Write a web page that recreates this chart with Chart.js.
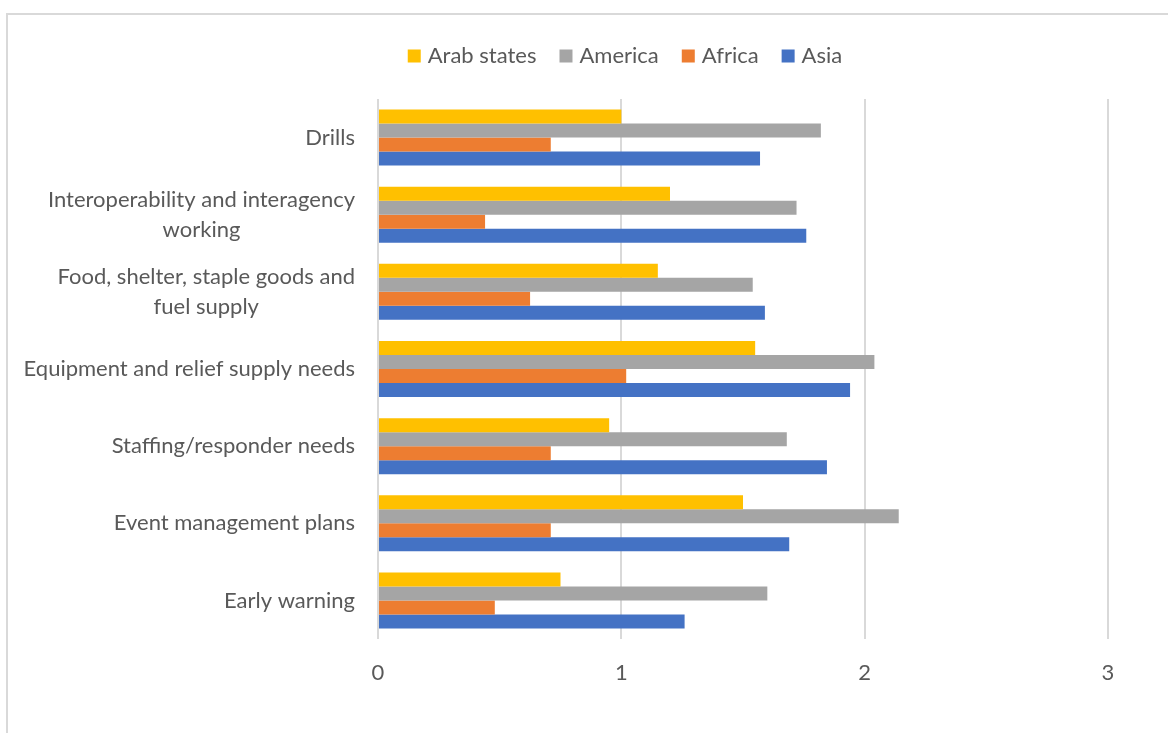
<!DOCTYPE html>
<html>
<head>
<meta charset="utf-8">
<script src="https://cdn.jsdelivr.net/npm/chart.js@4.4.1/dist/chart.umd.min.js"></script>
<style>
  html, body { margin: 0; padding: 0; background: #ffffff; overflow: hidden; }
  #wrap { position: absolute; left: 0; top: 0; width: 1168px; height: 733px; }
</style>
</head>
<body>
<div id="wrap"><canvas id="c" width="1168" height="733"></canvas></div>
<script>
// Preparedness areas (top to bottom); multi-line labels are split into lines
const categories = [
  ["Drills"],
  ["Interoperability and interagency", "working"],
  ["Food, shelter, staple goods and", "fuel supply"],
  ["Equipment and relief supply needs"],
  ["Staffing/responder needs"],
  ["Event management plans"],
  ["Early warning"]
];
const seriesNames = ["Arab states", "America", "Africa", "Asia"];
const seriesColors = ["#FFC000", "#A5A5A5", "#ED7D31", "#4472C4"];

// Mean scores per region
const arabStates = [1.00, 1.20, 1.15, 1.55, 0.95, 1.50, 0.75];
const america    = [1.82, 1.72, 1.54, 2.04, 1.68, 2.14, 1.60];
const africa     = [0.71, 0.44, 0.625, 1.02, 0.71, 0.71, 0.48];
const asia       = [1.57, 1.76, 1.59, 1.94, 1.845, 1.69, 1.26];

const xTicks = [0, 1, 2, 3];

const FONT = "Lato, 'Open Sans', sans-serif";
const FONT_SIZE = 22;
const TEXT_COLOR = "#595959";
const GRID_COLOR = "#D9D9D9";

// Frame around the chart
const framePlugin = {
  id: "frame",
  beforeDraw(chart) {
    const ctx = chart.ctx;
    ctx.save();
    ctx.strokeStyle = GRID_COLOR;
    ctx.lineWidth = 2;
    ctx.beginPath();
    ctx.moveTo(7, chart.height);
    ctx.lineTo(7, 14);
    ctx.lineTo(chart.width, 14);
    ctx.stroke();
    ctx.restore();
  }
};

// Category labels: block right-aligned to the axis, lines centred within the block
const categoryLabelPlugin = {
  id: "categoryLabels",
  afterDraw(chart) {
    const ctx = chart.ctx;
    const yScale = chart.scales.y;
    const rightEdge = chart.chartArea.left - 23;
    const lineHeight = 30;
    ctx.save();
    ctx.font = FONT_SIZE + "px " + FONT;
    ctx.fillStyle = TEXT_COLOR;
    ctx.textAlign = "center";
    ctx.textBaseline = "middle";
    categories.forEach((lines, i) => {
      const yc = yScale.getPixelForValue(i);
      const blockW = Math.max(...lines.map(l => ctx.measureText(l).width));
      const xc = rightEdge - blockW / 2;
      const y0 = yc - (lines.length - 1) * lineHeight / 2;
      lines.forEach((l, k) => ctx.fillText(l, xc, y0 + k * lineHeight));
    });
    ctx.restore();
  }
};

// Legend row across the top
const legendPlugin = {
  id: "topLegend",
  afterDraw(chart) {
    const ctx = chart.ctx;
    const box = 13, gapText = 7, gapItem = 23, cx = 625, cy = 56;
    ctx.save();
    ctx.font = FONT_SIZE + "px " + FONT;
    ctx.textBaseline = "middle";
    ctx.textAlign = "left";
    const items = chart.data.datasets.map(ds => ({
      text: ds.label, color: ds.backgroundColor, w: ctx.measureText(ds.label).width
    }));
    const total = items.reduce((s, it) => s + box + gapText + it.w, 0) + gapItem * (items.length - 1);
    let x = cx - total / 2;
    items.forEach(it => {
      ctx.fillStyle = it.color;
      ctx.fillRect(x, cy - box / 2, box, box);
      x += box + gapText;
      ctx.fillStyle = TEXT_COLOR;
      ctx.fillText(it.text, x, cy);
      x += it.w + gapItem;
    });
    ctx.restore();
  }
};

const seriesValues = [arabStates, america, africa, asia];

new Chart(document.getElementById("c"), {
  type: "bar",
  data: {
    labels: categories.map(l => l.join(" ")),
    datasets: seriesNames.map((name, i) => ({
      label: name,
      data: seriesValues[i],
      backgroundColor: seriesColors[i],
      borderWidth: 0,
      categoryPercentage: 0.726,
      barPercentage: 1.0
    }))
  },
  options: {
    indexAxis: "y",
    responsive: false,
    animation: false,
    devicePixelRatio: 1,
    layout: { padding: { left: 378, right: 60, top: 99, bottom: 0 } },
    plugins: {
      legend: { display: false },
      tooltip: { enabled: false }
    },
    scales: {
      x: {
        min: 0,
        max: 3,
        afterBuildTicks: scale => { scale.ticks = xTicks.map(v => ({ value: v })); },
        afterFit: scale => { scale.height = 733 - 639; },
        grid: { color: GRID_COLOR, lineWidth: 2, drawTicks: false },
        border: { display: false },
        ticks: {
          color: TEXT_COLOR,
          font: { family: FONT, size: FONT_SIZE },
          padding: 21
        }
      },
      y: {
        afterFit: scale => { scale.width = 0; },
        ticks: { display: false },
        grid: { display: false },
        border: { display: false }
      }
    }
  },
  plugins: [framePlugin, categoryLabelPlugin, legendPlugin]
});
</script>
</body>
</html>
